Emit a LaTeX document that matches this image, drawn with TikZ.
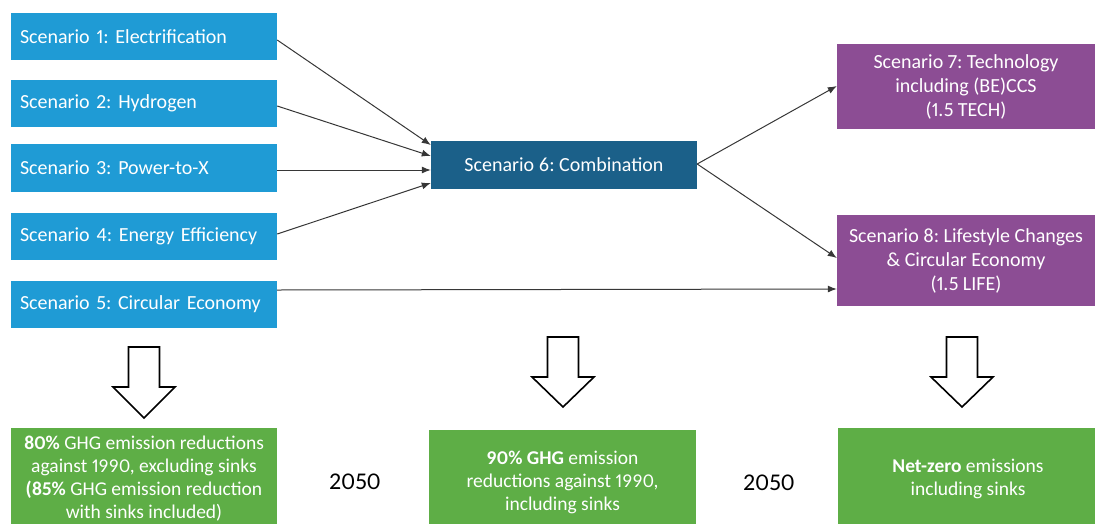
\documentclass[tikz,border=0pt]{standalone}
\usepackage{fontspec}
\setmainfont[Numbers=Proportional]{Carlito}
\frenchspacing
\usetikzlibrary{calc,arrows.meta}
\definecolor{scblue}{RGB}{31,155,213}
\definecolor{scdark}{RGB}{27,96,137}
\definecolor{scpurple}{RGB}{140,77,148}
\definecolor{scgreen}{RGB}{94,174,70}
\definecolor{lncol}{RGB}{55,55,55}
\tikzset{
  box/.style={draw=none, inner sep=0pt, text=white, font=\fontsize{20}{24}\selectfont},
  bluebox/.style={box, fill=scblue, minimum width=266pt, minimum height=47pt, text width=248pt, align=left},
  darkbox/.style={box, fill=scdark, minimum width=266pt, minimum height=48pt, align=center},
  purplebox/.style={box, fill=scpurple, minimum width=258pt, align=center},
  greenbox/.style={box, fill=scgreen, minimum width=266pt, align=center, font=\fontsize{19.5}{23}\selectfont},
  yeartext/.style={inner sep=0pt, text=black, font=\fontsize{24}{28}\selectfont},
  conn/.style={draw=lncol, line width=1pt, -{Latex[length=9pt,width=7pt]}},
  blockarrow/.style={draw=black, line width=1.6pt, fill=white, line join=miter}
}
\begin{document}
\begin{tikzpicture}[x=1pt,y=-1pt]
\useasboundingbox (0,0) rectangle (1095,523);
\clip (0,0) rectangle (1095,523);
% left column
\node[bluebox] (s1) at (144,36.5) {Scenario 1: Electrification};
\node[bluebox] (s2) at (144,103.5) {Scenario 2: Hydrogen};
\node[bluebox, minimum height=48pt] (s3) at (144,168) {Scenario 3: Power-to-X};
\node[bluebox] (s4) at (144,236.5) {Scenario 4: Energy Efficiency};
\node[bluebox] (s5) at (144,304.5) {Scenario 5: Circular Economy};
% middle
\node[darkbox] (s6) at (564,165) {Scenario 6: Combination};
% right
\node[purplebox, minimum height=85pt] (s7) at (966,86.5) {Scenario 7: Technology\\including (BE)CCS\\(1.5 TECH)};
\node[purplebox, minimum height=91pt] (s8) at (966,260.5) {Scenario 8: Lifestyle Changes\\\& Circular Economy\\(1.5 LIFE)};
% connectors
\draw[conn] ($(s1.east)+(0,3.5)$) -- ($(s6.west)+(0,-20)$);
\draw[conn] ($(s2.east)+(0,2.5)$) -- ($(s6.west)+(0,-9)$);
\draw[conn] ($(s3.east)+(0,2)$) -- ($(s6.west)+(0,5)$);
\draw[conn] ($(s4.east)+(0,-2.5)$) -- ($(s6.west)+(0,18)$);
\draw[conn] ($(s5.east)+(0,-14.5)$) -- ($(s8.west)+(0,28.5)$);
\draw[conn] ($(s6.east)+(0,-1)$) -- ($(s7.west)+(0,-0.5)$);
\draw[conn] ($(s6.east)+(0,-1)$) -- ($(s8.west)+(0,-2.5)$);
% block arrows
\draw[blockarrow] (128.5,347) -- (159.5,347) -- (159.5,387) -- (175,387) -- (144,418) -- (113,387) -- (128.5,387) -- cycle;
\draw[blockarrow] (547.5,337) -- (578.5,337) -- (578.5,377) -- (594,377) -- (563,407) -- (532,377) -- (547.5,377) -- cycle;
\draw[blockarrow] (946.5,337) -- (977.5,337) -- (977.5,377) -- (993,377) -- (962,407) -- (931,377) -- (946.5,377) -- cycle;
% outcome boxes
\node[greenbox, minimum height=101pt] (g1) at (144,478.5) {\textbf{80\%} GHG emission reductions\\against 1990, excluding sinks\\\textbf{(85\%} GHG emission reduction\\with sinks included)};
\node[greenbox, minimum width=267pt, minimum height=104pt] (g2) at (562.5,482) {\textbf{90\% GHG} emission\\reductions against 1990,\\including sinks};
\node[greenbox, minimum width=260pt, minimum height=101pt] (g3) at (968,478.5) {\textbf{Net-zero} emissions\\including sinks};
\node[yeartext] (y1) at (355,482) {2050};
\node[yeartext] (y2) at (769,483) {2050};
\end{tikzpicture}
\end{document}
